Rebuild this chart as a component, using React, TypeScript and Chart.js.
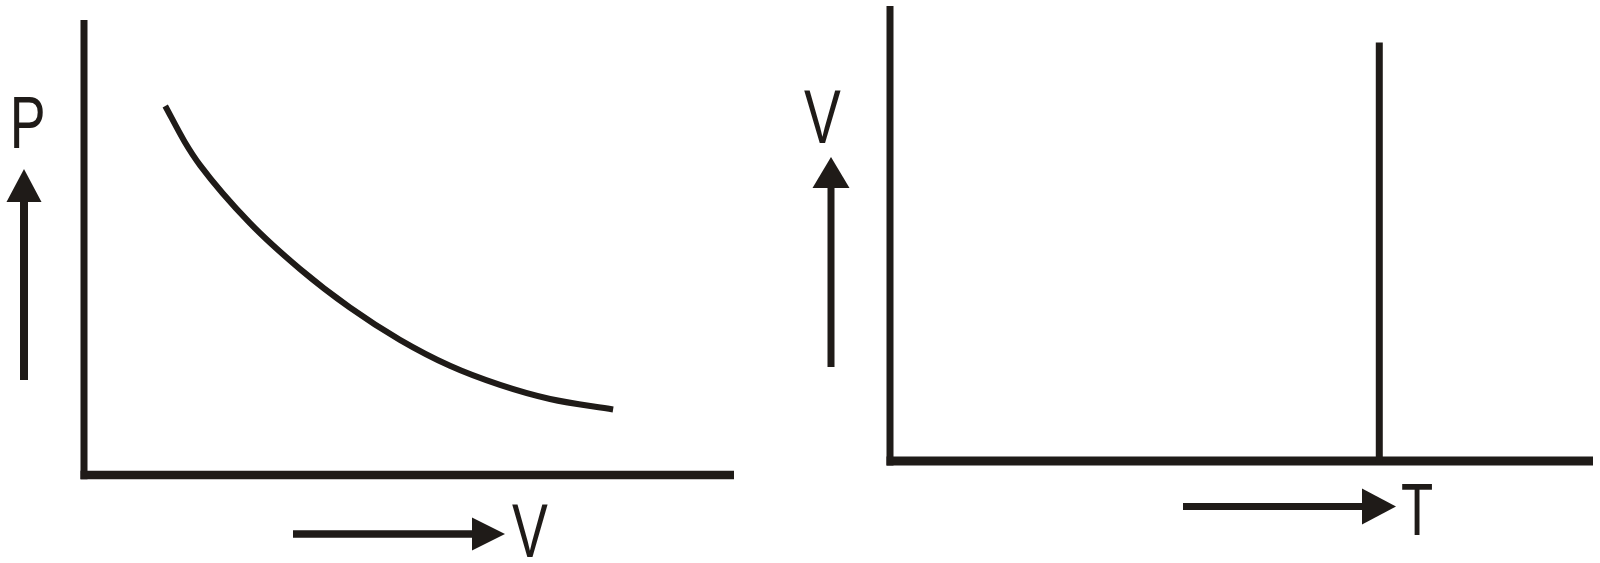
import React, { useEffect, useRef } from "react";
import { Chart, registerables } from "chart.js";

Chart.register(...registerables);

const INK = "#1f1b18";

// Left panel: P against V at constant temperature (Boyle's law)
const pvVolume = [1.25, 1.55, 1.79, 2.55, 3.32, 4.09, 4.86, 5.63, 6.4, 7.17, 8.14];
const pvPressure = [8.11, 7.32, 6.8, 5.54, 4.53, 3.68, 2.97, 2.4, 1.98, 1.67, 1.44];

// Right panel: V against T (temperature held constant)
const vtTemperature = [6.96, 6.96];
const vtVolume = [0, 9.2];

// Axis labels
const leftLabels = { y: "P", x: "V" };
const rightLabels = { y: "V", x: "T" };

function fitText(ctx: CanvasRenderingContext2D, text: string, x0: number, y0: number, x1: number, y1: number) {
  ctx.save();
  ctx.font = '100px "Liberation Sans", Arial, sans-serif';
  ctx.textAlign = "left";
  ctx.textBaseline = "alphabetic";
  const m = ctx.measureText(text);
  const w = m.actualBoundingBoxLeft + m.actualBoundingBoxRight;
  const h = m.actualBoundingBoxAscent + m.actualBoundingBoxDescent;
  ctx.translate(x0, y0);
  ctx.scale((x1 - x0) / w, (y1 - y0) / h);
  ctx.fillStyle = INK;
  ctx.fillText(text, m.actualBoundingBoxLeft, m.actualBoundingBoxAscent);
  ctx.restore();
}

function arrowUp(ctx: CanvasRenderingContext2D, cx: number, yBottom: number, yBase: number, yApex: number, half: number, thick: number) {
  ctx.save();
  ctx.fillStyle = INK;
  ctx.fillRect(cx - thick / 2, yBase - 1, thick, yBottom - yBase + 1);
  ctx.beginPath();
  ctx.moveTo(cx, yApex);
  ctx.lineTo(cx + half, yBase);
  ctx.lineTo(cx - half, yBase);
  ctx.closePath();
  ctx.fill();
  ctx.restore();
}

function arrowRight(ctx: CanvasRenderingContext2D, cy: number, xStart: number, xBase: number, xApex: number, half: number, thick: number) {
  ctx.save();
  ctx.fillStyle = INK;
  ctx.fillRect(xStart, cy - thick / 2, xBase - xStart + 1, thick);
  ctx.beginPath();
  ctx.moveTo(xApex, cy);
  ctx.lineTo(xBase, cy - half);
  ctx.lineTo(xBase, cy + half);
  ctx.closePath();
  ctx.fill();
  ctx.restore();
}

const decorPlugin = {
  id: "decor",
  beforeDatasetsDraw(chart: any, _args: any, opts: any) {
    const ctx = chart.ctx as CanvasRenderingContext2D;
    const xs = chart.scales.x;
    const ys = chart.scales.y;
    const x0 = xs.getPixelForValue(xs.min);
    const x1 = xs.getPixelForValue(xs.max);
    const y0 = ys.getPixelForValue(ys.min);
    const y1 = ys.getPixelForValue(ys.max);
    ctx.save();
    ctx.fillStyle = INK;
    // vertical axis
    ctx.fillRect(x0 - opts.vThick / 2, y1, opts.vThick, y0 - y1 + opts.hThick / 2);
    // horizontal axis
    ctx.fillRect(x0 - opts.vThick / 2, y0 - opts.hThick / 2, x1 - x0 + opts.vThick / 2, opts.hThick);
    ctx.restore();
    opts.draw(ctx);
  },
};

function makeConfig(data: { x: number; y: number }[], lineWidth: number, tension: number, padding: any, decor: any) {
  return {
    type: "scatter" as const,
    data: {
      datasets: [
        {
          data,
          showLine: true,
          borderColor: INK,
          borderWidth: lineWidth,
          borderCapStyle: "butt",
          borderJoinStyle: "round",
          pointRadius: 0,
          pointHoverRadius: 0,
          tension,
          cubicInterpolationMode: tension > 0 ? "monotone" : "default",
          clip: false,
        },
      ],
    },
    options: {
      animation: false,
      responsive: false,
      devicePixelRatio: 1,
      events: [],
      layout: { padding },
      scales: {
        x: { type: "linear", min: 0, max: 10, display: false },
        y: { type: "linear", min: 0, max: 10, display: false },
      },
      plugins: {
        legend: { display: false },
        tooltip: { enabled: false },
        title: { display: false },
        decor,
      },
    },
    plugins: [decorPlugin],
  } as any;
}

export default function App() {
  const leftRef = useRef<HTMLCanvasElement>(null);
  const rightRef = useRef<HTMLCanvasElement>(null);

  useEffect(() => {
    const pvData = pvVolume.map((v, i) => ({ x: v, y: pvPressure[i] }));
    const vtData = vtTemperature.map((t, i) => ({ x: t, y: vtVolume[i] }));

    const left = new Chart(
      leftRef.current!,
      makeConfig(pvData, 6, 0.4, { left: 84, right: 66, top: 20, bottom: 88 }, {
        vThick: 7,
        hThick: 8.5,
        draw: (ctx: CanvasRenderingContext2D) => {
          arrowUp(ctx, 24, 380, 202, 169, 17.5, 8);
          fitText(ctx, leftLabels.y, 14, 97, 43, 148);
          arrowRight(ctx, 534, 293, 472, 505, 16.5, 7.5);
          fitText(ctx, leftLabels.x, 512, 505, 548, 557);
        },
      })
    );

    const right = new Chart(
      rightRef.current!,
      makeConfig(vtData, 7, 0, { left: 90, right: 7, top: 6, bottom: 102 }, {
        vThick: 7,
        hThick: 9,
        draw: (ctx: CanvasRenderingContext2D) => {
          arrowUp(ctx, 31, 367, 188, 157, 18.5, 7);
          fitText(ctx, rightLabels.y, 4, 91, 41, 143);
          arrowRight(ctx, 506.5, 383, 562, 596, 18, 7);
          fitText(ctx, rightLabels.x, 602, 484, 632, 536);
        },
      })
    );

    return () => {
      left.destroy();
      right.destroy();
    };
  }, []);

  return (
    <div style={{ position: "fixed", left: 0, top: 0, width: 1600, height: 563, background: "#ffffff" }}>
      <canvas ref={leftRef} width={800} height={563} style={{ position: "absolute", left: 0, top: 0, width: 800, height: 563 }} />
      <canvas ref={rightRef} width={800} height={563} style={{ position: "absolute", left: 800, top: 0, width: 800, height: 563 }} />
    </div>
  );
}
